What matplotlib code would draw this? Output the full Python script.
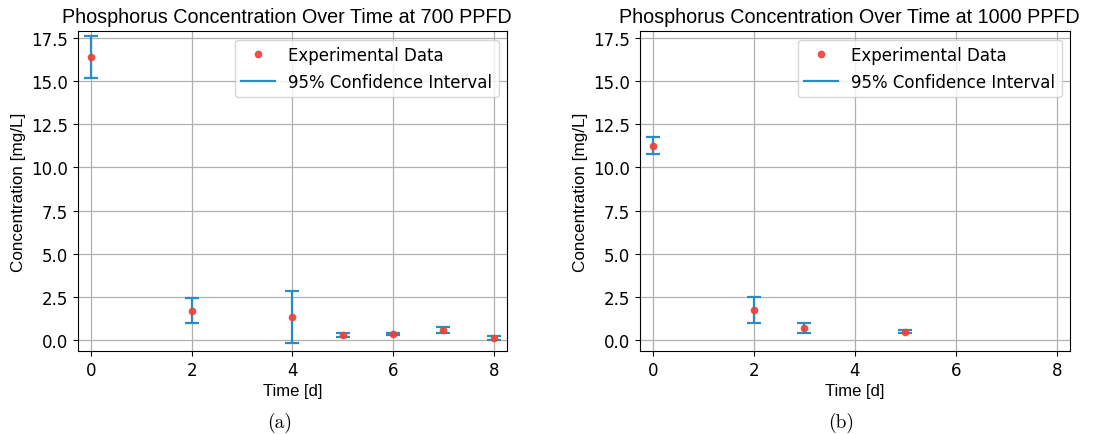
import matplotlib.pyplot as plt
from matplotlib.lines import Line2D

# 700 PPFD
t_700 = [0, 2, 4, 5, 6, 7, 8]
p_700 = [16.4, 1.68, 1.33, 0.26, 0.32, 0.55, 0.12]
lo_700 = [15.2, 0.98, -0.17, 0.18, 0.27, 0.37, 0.02]
hi_700 = [17.6, 2.43, 2.84, 0.38, 0.37, 0.72, 0.22]

# 1000 PPFD
t_1000 = [0, 2, 3, 5]
p_1000 = [11.26, 1.72, 0.7, 0.47]
lo_1000 = [10.78, 0.98, 0.4, 0.4]
hi_1000 = [11.74, 2.51, 1.0, 0.55]

titles = ["Phosphorus Concentration Over Time at 700 PPFD",
          "Phosphorus Concentration Over Time at 1000 PPFD"]
captions = ["(a)", "(b)"]
caption_x = [0.256, 0.769]

fig = plt.figure(figsize=(10.94, 4.35), dpi=100)
ax1 = fig.add_axes([0.0713, 0.191, 0.392, 0.735])
ax2 = fig.add_axes([0.585, 0.191, 0.393, 0.735])

blue = '#2a8cc6'
red = '#ee4236'

panels = [(ax1, t_700, p_700, lo_700, hi_700),
          (ax2, t_1000, p_1000, lo_1000, hi_1000)]

for i, (ax, t, p, lo, hi) in enumerate(panels):
    yerr = [[pi - l for pi, l in zip(p, lo)], [h - pi for pi, h in zip(p, hi)]]
    ax.plot(t, p, 'o', color=red, markersize=4.5, alpha=0.9, zorder=3)
    ax.errorbar(t, p, yerr=yerr, fmt='none', ecolor=blue, elinewidth=1.6, capsize=5.2,
                capthick=1.6, zorder=2)
    ax.set_xlim(-0.26, 8.26)
    ax.set_ylim(-0.64, 17.9)
    ax.set_xticks([0, 2, 4, 6, 8])
    ax.set_yticks([0, 2.5, 5, 7.5, 10, 12.5, 15, 17.5])
    ax.grid(True, color='#b0b0b0', linewidth=0.9)
    ax.set_axisbelow(True)
    ax.tick_params(labelsize=12)
    ax.set_title(titles[i], fontsize=14.2, family='Liberation Sans', pad=6.5, x=0.487)
    ax.set_xlabel('Time [d]', fontsize=12, family='Liberation Sans', labelpad=3)
    ax.set_ylabel('Concentration [mg/L]', fontsize=12.3, family='Liberation Sans')
    handles = [Line2D([], [], marker='o', linestyle='none', color=red, markersize=4.5, alpha=0.9),
               Line2D([], [], color=blue, linewidth=1.6)]
    ax.legend(handles, ['Experimental Data', '95% Confidence Interval'],
              loc='upper right', fontsize=12)
    fig.text(caption_x[i], 0.017, captions[i], ha='center', va='baseline',
             fontsize=14, family='cmr10')

fig.savefig('out.png', dpi=100)
